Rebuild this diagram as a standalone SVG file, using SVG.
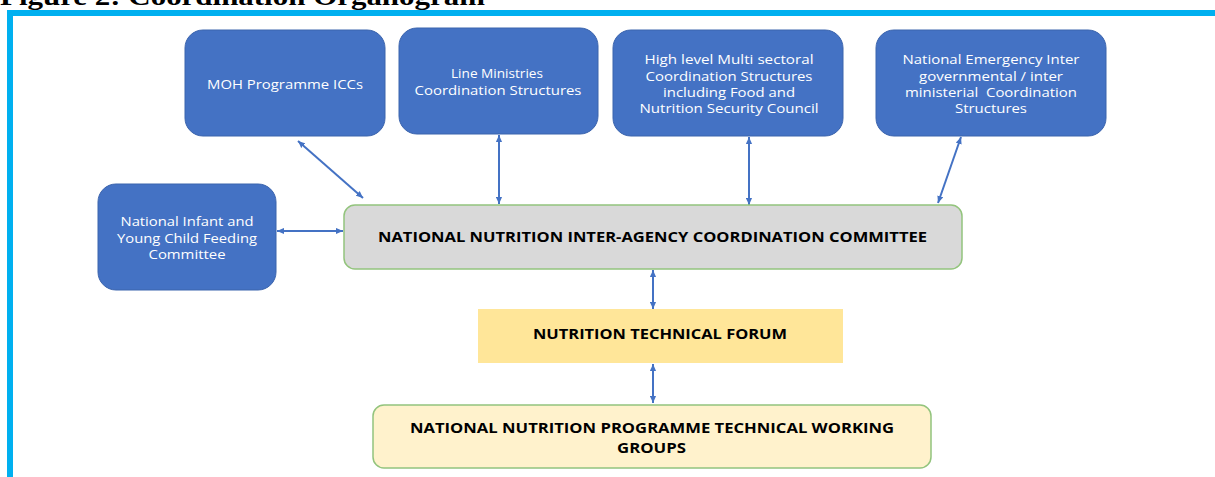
<svg xmlns="http://www.w3.org/2000/svg" width="1215" height="477" viewBox="0 0 1215 477">
  <style>
    .blue { fill: #4472c4; stroke: #3b64ad; stroke-width: 1; }
    .wt { fill: #ffffff; font-family: "Open Sans", "Liberation Sans", sans-serif; font-size: 13px; text-anchor: middle; }
    .bt { fill: #000000; font-family: "Open Sans", "Liberation Sans", sans-serif; font-weight: bold; font-size: 15px; text-anchor: middle; }
    .link { stroke: #4472c4; stroke-width: 2; fill: none; marker-start: url(#tip); marker-end: url(#tip); }
  </style>
  <defs>
    <marker id="tip" viewBox="0 0 8 8" refX="8" refY="4" markerWidth="7" markerHeight="7" markerUnits="userSpaceOnUse" orient="auto-start-reverse">
      <path d="M0,0.5 L8,4 L0,7.5 Z" fill="#4472c4"/>
    </marker>
  </defs>

  <rect width="1215" height="477" fill="#ffffff"/>

  <!-- page heading, cut by the top edge -->
  <text x="0" y="5" font-family="Liberation Serif, serif" font-weight="bold" font-size="26" textLength="485" lengthAdjust="spacingAndGlyphs" fill="#000000">Figure 2: Coordination Organogram</text>

  <!-- frame -->
  <rect x="7" y="10" width="1208" height="6" fill="#00b0f0"/>
  <rect x="7" y="10" width="6" height="467" fill="#00b0f0"/>

  <g id="connectors">
    <line class="link" x1="298" y1="141" x2="363" y2="198"/>
    <line class="link" x1="499" y1="135" x2="499" y2="204"/>
    <line class="link" x1="749" y1="137" x2="749" y2="205"/>
    <line class="link" x1="961" y1="137" x2="938" y2="203"/>
    <line class="link" x1="277" y1="231" x2="343" y2="231"/>
    <line class="link" x1="653" y1="270" x2="653" y2="309"/>
    <line class="link" x1="653" y1="364" x2="653" y2="403"/>
  </g>

  <g id="moh-iccs">
    <rect class="blue" x="185" y="30" width="200" height="106" rx="18"/>
    <text class="wt" x="285" y="88.5" textLength="156" lengthAdjust="spacingAndGlyphs">MOH Programme ICCs</text>
  </g>

  <g id="line-ministries">
    <rect class="blue" x="399" y="28" width="199" height="106" rx="18"/>
    <text class="wt" x="497" y="77.5" textLength="92" lengthAdjust="spacingAndGlyphs">Line Ministries</text>
    <text class="wt" x="498" y="95" textLength="167" lengthAdjust="spacingAndGlyphs">Coordination Structures</text>
  </g>

  <g id="high-level">
    <rect class="blue" x="613" y="30" width="230" height="106" rx="18"/>
    <text class="wt" x="729" y="63.5" textLength="169" lengthAdjust="spacingAndGlyphs">High level Multi sectoral</text>
    <text class="wt" x="729" y="80.5" textLength="167" lengthAdjust="spacingAndGlyphs">Coordination Structures</text>
    <text class="wt" x="729" y="96.5" textLength="132" lengthAdjust="spacingAndGlyphs">including Food and</text>
    <text class="wt" x="729" y="112.5" textLength="179" lengthAdjust="spacingAndGlyphs">Nutrition Security Council</text>
  </g>

  <g id="national-emergency">
    <rect class="blue" x="876" y="30" width="230" height="106" rx="18"/>
    <text class="wt" x="991" y="63.5" textLength="177" lengthAdjust="spacingAndGlyphs">National Emergency Inter</text>
    <text class="wt" x="991" y="80.5" textLength="144" lengthAdjust="spacingAndGlyphs">governmental / inter</text>
    <text class="wt" x="991" y="96.5" textLength="172" lengthAdjust="spacingAndGlyphs" xml:space="preserve">ministerial  Coordination</text>
    <text class="wt" x="991" y="112.5" textLength="72" lengthAdjust="spacingAndGlyphs">Structures</text>
  </g>

  <g id="iycf-committee">
    <rect class="blue" x="98" y="184" width="178" height="106" rx="18"/>
    <text class="wt" x="187" y="226" textLength="133" lengthAdjust="spacingAndGlyphs">National Infant and</text>
    <text class="wt" x="187" y="242.5" textLength="140" lengthAdjust="spacingAndGlyphs">Young Child Feeding</text>
    <text class="wt" x="187" y="259" textLength="77" lengthAdjust="spacingAndGlyphs">Committee</text>
  </g>

  <g id="inter-agency-committee">
    <rect x="344" y="205" width="618" height="64" rx="11" fill="#d9d9d9" stroke="#93c47d" stroke-width="1.5"/>
    <text class="bt" x="652.5" y="242" textLength="549" lengthAdjust="spacingAndGlyphs">NATIONAL NUTRITION INTER-AGENCY COORDINATION COMMITTEE</text>
  </g>

  <g id="technical-forum">
    <rect x="478" y="309" width="365" height="54" fill="#ffe699"/>
    <text class="bt" x="660" y="338.5" textLength="254" lengthAdjust="spacingAndGlyphs">NUTRITION TECHNICAL FORUM</text>
  </g>

  <g id="working-groups">
    <rect x="373" y="405" width="558" height="63" rx="11" fill="#fff2cc" stroke="#93c47d" stroke-width="1.5"/>
    <text class="bt" x="652" y="433" textLength="484" lengthAdjust="spacingAndGlyphs">NATIONAL NUTRITION PROGRAMME TECHNICAL WORKING</text>
    <text class="bt" x="651.5" y="452.5" textLength="69" lengthAdjust="spacingAndGlyphs">GROUPS</text>
  </g>
</svg>
